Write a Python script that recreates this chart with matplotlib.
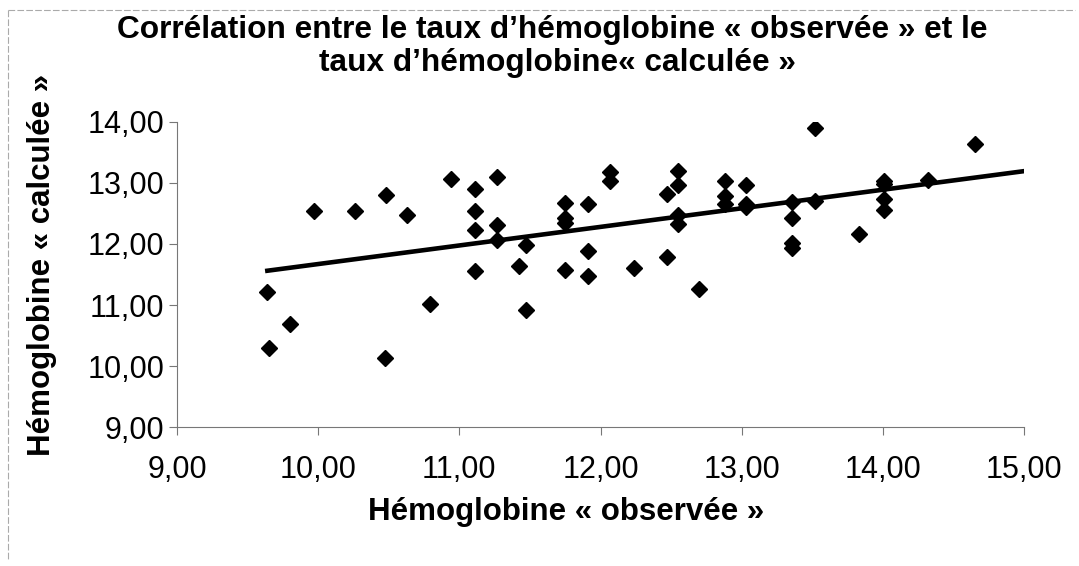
import numpy as np
import matplotlib
matplotlib.use("Agg")
import matplotlib.pyplot as plt
from matplotlib.ticker import FuncFormatter

hb_obs = [10.94, 10.48, 9.97, 10.26, 10.63, 9.64, 9.80, 9.65, 10.47, 10.79,
          11.11, 11.11, 11.11, 11.11, 11.27, 11.27, 11.27, 11.47, 11.42, 11.47,
          11.75, 11.75, 11.75, 11.75, 11.91, 11.91, 11.91, 12.07, 12.07, 12.24,
          12.47, 12.47, 12.55, 12.55, 12.55, 12.55, 12.70, 12.88, 12.88, 12.88,
          13.03, 13.03, 13.03, 13.36, 13.36, 13.36, 13.36, 13.52, 13.52, 13.83,
          14.01, 14.01, 14.01, 14.01, 14.32, 14.65]
hb_calc = [13.06, 12.80, 12.54, 12.54, 12.47, 11.22, 10.69, 10.30, 10.13, 11.02,
           12.90, 12.54, 12.22, 11.55, 13.10, 12.31, 12.07, 11.98, 11.64, 10.92,
           12.67, 12.42, 12.34, 11.57, 12.65, 11.88, 11.48, 13.18, 13.03, 11.61,
           12.81, 11.78, 13.20, 12.96, 12.47, 12.33, 11.27, 13.03, 12.78, 12.65,
           12.96, 12.66, 12.60, 12.69, 12.43, 12.01, 11.94, 12.70, 13.89, 12.17,
           13.03, 12.98, 12.73, 12.55, 13.04, 13.64]

# linear trend line as drawn in the chart
trend_slope = 0.304
trend_intercept = 8.631
trend_end = 15.0

x_ticks = [9, 10, 11, 12, 13, 14, 15]
y_ticks = [9, 10, 11, 12, 13, 14]

plt.rcParams['font.family'] = ['Liberation Sans', 'DejaVu Sans']

W, H = 1079, 566
fig = plt.figure(figsize=(W / 100, H / 100), dpi=100)
ax = fig.add_axes([177 / W, 1 - 427.3 / H, (1024 - 177) / W, (427.3 - 121.7) / H])

x = np.array(hb_obs)
y = np.array(hb_calc)
ax.plot(x, y, linestyle='none', marker='D', markersize=8.5, color='black', zorder=3)

tx = np.array([x.min(), trend_end])
ax.plot(tx, trend_intercept + trend_slope * tx, color='black', linewidth=3.3, zorder=2)

ax.set_xlim(9, 15)
ax.set_ylim(9, 14)
ax.set_xticks(x_ticks)
ax.set_yticks(y_ticks)
fmt = FuncFormatter(lambda v, p: ('%.2f' % v).replace('.', ','))
ax.xaxis.set_major_formatter(fmt)
ax.yaxis.set_major_formatter(fmt)

for s in ['top', 'right']:
    ax.spines[s].set_visible(False)
for s in ['left', 'bottom']:
    ax.spines[s].set_color('#777777')
    ax.spines[s].set_linewidth(0.8)
ax.tick_params(axis='both', colors='#777777', labelcolor='black', labelsize=22,
               length=6, width=0.8, direction='out')
ax.tick_params(axis='x', pad=14)
ax.tick_params(axis='y', pad=3)

fig.text(552 / W, 1 - 30 / H, "Corrélation entre le taux d’hémoglobine « observée » et le",
         ha='center', va='center', fontsize=22.8, fontweight='bold')
fig.text(557 / W, 1 - 63 / H, "taux d’hémoglobine« calculée »",
         ha='center', va='center', fontsize=22.8, fontweight='bold')
fig.text(566 / W, 1 - 512 / H, "Hémoglobine « observée »",
         ha='center', va='center', fontsize=22.5, fontweight='bold')
fig.text(42 / W, 1 - 265 / H, "Hémoglobine « calculée »", rotation=90,
         ha='center', va='center', fontsize=22.5, fontweight='bold')

# faint scanned border of the original chart box
fig.add_artist(plt.Line2D([8 / W, 1075 / W], [1 - 10 / H, 1 - 10 / H],
                          transform=fig.transFigure, color='#aaaaaa', lw=0.8, ls=(0, (6, 2))))
fig.add_artist(plt.Line2D([8 / W, 8 / W], [1 - 10 / H, 1 - 560 / H],
                          transform=fig.transFigure, color='#aaaaaa', lw=0.8, ls=(0, (6, 2))))

fig.savefig("out.png", dpi=100)
